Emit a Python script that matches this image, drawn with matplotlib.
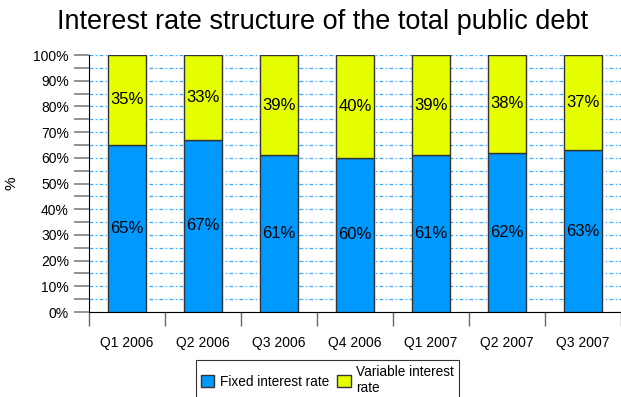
import matplotlib
matplotlib.use("Agg")
import matplotlib.pyplot as plt
from matplotlib.ticker import MultipleLocator, FixedLocator, PercentFormatter, NullFormatter
import numpy as np

plt.rcParams['font.family'] = ['Liberation Sans', 'DejaVu Sans']

categories = ["Q1 2006", "Q2 2006", "Q3 2006", "Q4 2006", "Q1 2007", "Q2 2007", "Q3 2007"]
fixed = [65, 67, 61, 60, 61, 62, 63]
variable = [35, 33, 39, 40, 39, 38, 37]

fig = plt.figure(figsize=(6.21, 3.97), dpi=100)
ax = fig.add_axes([89/621, 85/397, 532/621, 257/397])

x = np.arange(len(categories))
c_fixed = "#0099ff"
c_var = "#e5ff00"
b1 = ax.bar(x, fixed, width=0.5, color=c_fixed, edgecolor="#333333", linewidth=1.0, zorder=3, label="Fixed interest rate")
b2 = ax.bar(x, variable, width=0.5, bottom=fixed, color=c_var, edgecolor="#333333", linewidth=1.0, zorder=3, label="Variable interest\nrate")

for xi, f, v in zip(x, fixed, variable):
    ax.text(xi, f / 2, f"{f}%", ha="center", va="center", fontsize=12, zorder=4)
    ax.text(xi, f + v / 2, f"{v}%", ha="center", va="center", fontsize=12, zorder=4)

ax.set_xlim(-0.5, len(categories) - 0.5)
ax.set_ylim(0, 100)

ax.yaxis.set_major_locator(MultipleLocator(10))
ax.yaxis.set_minor_locator(MultipleLocator(5))
ax.yaxis.set_major_formatter(PercentFormatter(decimals=0))
ax.tick_params(axis="y", which="both", direction="out", length=11, width=1.2, color="#808080", labelsize=10)

ax.grid(axis="y", which="both", color="#33aaff", linestyle=(0, (3, 2, 1, 2)), linewidth=0.9, zorder=1)

ax.set_xticks(x)
ax.set_xticklabels(categories, fontsize=10)
ax.tick_params(axis="x", which="major", length=0, pad=17)
ax.xaxis.set_minor_locator(FixedLocator(np.arange(len(categories) + 1) - 0.5))
ax.xaxis.set_minor_formatter(NullFormatter())
ax.tick_params(axis="x", which="minor", direction="out", length=10, width=1.0, color="#666666")

for s in ["top", "right"]:
    ax.spines[s].set_visible(False)
ax.spines["left"].set_color("black")
ax.spines["bottom"].set_color("black")

ax.set_ylabel("%", fontsize=11)
ax.yaxis.set_label_coords((18 - 89) / 532, 0.5)

fig.text(323/621, 1 - 22/397, "Interest rate structure of the total public debt", ha="center", va="center", fontsize=19.5)

leg = fig.legend(handles=[b1, b2], loc="lower center", bbox_to_anchor=(0.527, -0.025), ncol=2,
                 frameon=True, fancybox=False, edgecolor="black", fontsize=9.8,
                 handlelength=1.0, handleheight=1.0, handletextpad=0.4, columnspacing=0.6,
                 borderpad=0.35)
leg.get_frame().set_linewidth(0.8)

fig.savefig("out.png", dpi=100)
